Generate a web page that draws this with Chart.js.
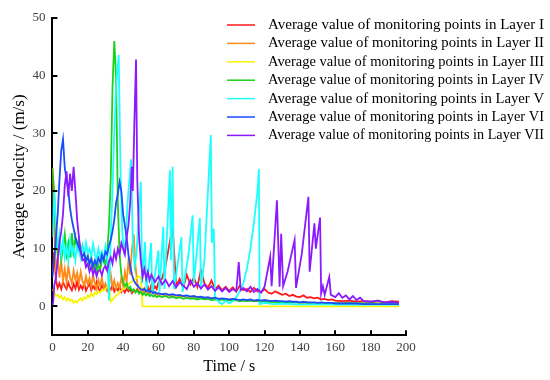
<!DOCTYPE html>
<html><head><meta charset="utf-8">
<script src="https://cdn.jsdelivr.net/npm/chart.js@4.4.1/dist/chart.umd.min.js"></script>
<style>html,body{margin:0;padding:0;background:#fff}canvas{display:block}</style>
</head><body><canvas id="c" width="550" height="380"></canvas>
<script>
// ---- data ----
const time = [
  0,1,2,3,4,5,6,7,8,9,
  10,11,12,13,14,15,16,17,18,19,
  20,21,22,23,24,25,26,27,28,29,
  30,31,32,33,34,35,36,37,38,39,
  40,41,42,43,44,45,46,47,48,49,
  50,51,52,53,54,55,56,57,58,59,
  60,62,64,66,68,70,72,74,76,78,
  80,82,84,86,88,90,92,94,96,98,
  100,102,104,106,108,110,112,114,116,118,
  120,122,124,126,128,130,132,134,136,138,
  140,142,144,146,148,150,152,154,156,158,
  160,164,168,172,176,180,184,188,192,196
];
const layerI = [
  6,9.5,4.5,3.2,4.0,3.0,4.2,3.5,3.0,4.1,
  3.3,2.8,3.9,3.1,4.3,2.9,3.6,3.0,4.0,2.7,
  3.4,3.9,2.8,3.5,3.0,4.2,3.1,2.6,3.6,3.0,
  3.4,2.7,3.3,2.9,3.8,2.6,3.2,2.8,3.5,2.5,
  3.0,2.4,3.1,2.6,2.9,2.3,2.8,2.5,3.0,2.4,
  2.7,2.2,3.1,2.6,3.4,2.5,3.8,2.8,3.5,3.0,
  4.2,4.8,7.0,10.5,13.8,3.5,4.8,3.2,5.5,3.8,
  5.0,3.4,6.3,4.0,3.2,4.5,3.0,3.6,2.8,3.4,
  2.7,3.3,2.6,3.6,2.8,3.0,2.5,3.2,2.6,2.4,
  3.0,2.4,2.2,2.6,2.3,2.0,2.2,1.8,2.0,1.7,
  1.6,1.9,1.5,1.6,1.4,1.5,1.2,1.3,1.1,1.2,
  1.0,0.9,1.0,0.8,0.9,0.8,0.9,0.7,0.9,0.8
];
const layerII = [
  24,14,6.0,8.5,5.0,7.8,4.5,6.5,4.2,7.0,
  5.0,4.0,6.2,4.6,5.8,4.0,6.0,4.4,3.6,5.2,
  3.8,4.9,3.4,5.5,3.9,3.0,4.6,3.5,5.0,3.2,
  4.0,2.9,3.6,5.6,3.4,4.5,3.0,4.0,3.2,5.0,
  3.6,6.0,4.2,8.0,5.5,10.0,12.5,7.0,4.0,3.2,
  2.6,3.0,2.4,2.8,2.2,2.6,2.0,2.4,2.0,2.2,
  1.9,2.1,1.8,2.0,1.7,1.9,1.6,1.8,1.5,1.7,
  1.5,1.6,1.4,1.5,1.3,1.4,1.2,1.3,1.2,1.3,
  1.1,1.2,1.1,1.0,1.1,1.0,1.0,0.9,1.0,0.9,
  0.9,0.8,0.9,0.8,0.8,0.7,0.8,0.7,0.7,0.7,
  0.7,0.6,0.7,0.6,0.6,0.6,0.6,0.5,0.6,0.5,
  0.5,0.5,0.6,0.5,0.5,0.5,0.5,0.5,0.5,0.5
];
const layerIII = [
  3.0,2.5,1.8,2.0,1.5,1.8,1.2,1.6,1.0,1.4,
  0.9,1.2,0.6,0.9,0.7,1.1,1.4,1.0,1.6,1.3,
  1.9,1.6,2.2,1.8,2.4,2.1,2.6,2.4,2.9,2.7,
  3.1,3.3,3.5,0.8,1.2,1.5,1.9,2.1,2.5,2.7,
  3.0,3.2,3.6,3.8,4.1,4.3,4.6,4.8,5.0,5.2,
  5.0,0,0,0,0,0,0,0,0,0,
  0,0,0,0,0,0,0,0,0,0,
  0,0,0,0,0,0,0,0,0,0,
  0,0,0,0,0,0,0,0,0,0,
  0,0,0,0,0,0,0,0,0,0,
  0,0,0,0,0,0,0,0,0,0,
  0,0,0,0,0,0,0,0,0,0
];
const layerIV = [
  24,20,12,9.0,11,8.0,10,12.5,9.0,11,
  8.5,12.7,9.5,12,10,11.5,8.8,10.5,9.2,7.8,
  9.0,7.2,8.4,6.5,7.6,6.0,7.2,6.3,8.0,8.6,
  7.0,9.0,14,22,38,46,40,18,9.0,5.5,
  4.2,3.5,4.0,3.0,3.4,2.6,3.0,2.4,2.8,2.2,
  2.5,2.0,2.3,1.9,2.2,1.8,2.0,1.7,1.9,1.6,
  1.8,1.6,1.8,1.5,1.7,1.4,1.6,1.3,1.5,1.3,
  1.4,1.2,1.4,1.2,1.3,1.1,1.2,1.1,1.2,1.0,
  1.1,1.0,1.1,0.9,1.0,0.9,1.0,0.9,0.9,0.8,
  0.9,0.8,0.8,0.8,0.7,0.8,0.7,0.7,0.7,0.7,
  0.6,0.7,0.6,0.6,0.6,0.6,0.5,0.6,0.5,0.5,
  0.5,0.5,0.6,0.5,0.5,0.5,1.0,0.5,0.6,0.5
];
const timeV = [
  0,1,2,3,4,5,6,7,8,9,
  10,11,12,13,14,15,16,17,18,19,
  20,21,22,23,24,25,26,27,28,29,
  30,31,32,33,34,35,36,
  37.5,38.5,39.5,40.5,41.5,42.5,
  44.5,45.5,46.5,47.5,48.5,
  50,50.8,52.4,53.2,55.8,56.5,59.9,60.6,62.7,63.4,
  66.5,67,68,68.8,73,73.6,77,79.3,80,
  83.4,84,86,89.6,90.2,91.3,92,
  94,96,98,100,102,104,106,108,110,112,114,116,
  116.8,117.2,
  120,125,130,140,150,160,170,180,196
];
const layerV = [
  12,20,14,10,12.5,9,11.5,8.5,10.5,8,
  11.5,9,10.2,8,11,9.5,8.4,10.5,8.8,11,
  9.2,10,8.5,10.8,9,8.2,10,8.6,9.5,8,
  10.5,9,1,12,20,30,38,
  43.6,24,13,9,12,18,
  25.5,11,7,9,14,
  21.6,4,11.2,2.5,11,2,9.7,2.5,13.8,3,
  23.6,8,24.2,3,12,2.5,9,15.8,4,
  15.3,3,8,29.7,11,13.5,1.5,
  0.8,0.4,1.0,0.5,0.9,1.6,2.6,4,6.5,10,14.5,20,
  23.8,0.4,
  0.6,0.4,0.5,0.3,0.4,0.3,0.3,0.3,0.3
];
const layerVI = [
  5.0,8.0,12,16,22,27,29,24,22,20,
  17,15,13.5,12,11,10.2,9.5,8.6,9.2,7.8,
  8.6,7.4,8.2,7.0,8.0,7.2,8.4,7.6,8.9,8.0,
  9.5,9.0,10.5,11.5,13,15,17.9,19.5,21.6,20,
  16,14,12,9.0,7.0,5.5,4.5,4.0,3.6,3.3,
  3.0,2.8,3.0,2.6,2.8,2.5,2.6,2.3,2.5,2.2,
  2.3,2.1,2.2,2.0,2.1,1.9,2.0,1.8,1.9,1.7,
  1.8,1.6,1.7,1.5,1.6,1.4,1.5,1.3,1.4,1.3,
  1.2,1.3,1.2,1.1,1.2,1.1,1.2,1.0,1.1,1.0,
  1.1,1.0,0.9,1.0,0.9,0.9,0.8,0.9,0.8,0.8,
  0.7,0.8,0.7,0.7,0.7,0.6,0.7,0.6,0.6,0.6,
  0.5,0.5,0.5,0.5,0.4,0.4,0.4,0.4,0.4,0.4
];
const timeVII = [
  0,0.5,1,
  2,3,4,5,6,7,8,9,10,11,
  12,13,14,15,16,17,18,19,20,21,
  22,23,24,25,26,27,28,29,30,31,
  32,33,34,35,36,37,38,39,40,41,
  42,43,44,
  44.9,45.5,46.3,47.3,
  48,49,50,51,52,53,54,55,56,
  58,60,62,64,66,68,70,72,74,76,
  78,80,82,84,86,88,90,92,94,96,
  98,100,102,104,
  105.4,106.5,
  108,110,112,114,116,118,120,
  123.2,124,127,128.5,129.4,130.5,133,137,137.8,141,
  144.8,145.5,148.2,149,151.4,152,153,154,156.6,157.5,
  160,162,164,166,168,170,172,174,176,
  180,184,188,192,196
];
const layerVII = [
  0,1,3.5,
  5,8,11,13,16,21,23.4,19,23,20,
  24.2,20,15,12,9.5,8,8.2,6.8,7.4,6,
  6.9,5.5,6.5,5.2,6.2,6.3,5.4,6.6,7,6.2,
  7.8,8.5,7.4,9.5,8.2,10,9,11,10,9,
  12,14,18,
  24.2,20,31,42.8,
  22,12,8,5.1,6.5,4.8,6,4.5,5.5,
  4.2,5.2,3.8,4.6,3.5,4.4,3.3,4.2,3.6,3.0,
  4.5,3.4,4.0,3.1,3.8,2.9,3.5,2.7,3.3,2.6,
  3.2,2.5,3.0,2.6,
  7.7,2.8,
  3.2,2.6,3.4,2.5,3.0,2.4,3.4,
  8.6,3.5,18.4,3.4,12.6,3.5,6,11.5,3.2,9,
  19,6,14.4,10,15.4,2.2,3.5,2,5.1,2,
  1.6,2.3,1.5,1.9,1.2,1.8,1.1,1.5,0.9,
  0.8,1.0,0.7,0.8,0.6
];
const seriesLabels = [
  'Average value of monitoring points in Layer I',
  'Average value of monitoring points in Layer II',
  'Average value of monitoring points in Layer III',
  'Average value of monitoring points in Layer IV',
  'Average value of monitoring points in Layer V',
  'Average value of monitoring points in Layer VI',
  'Average value of monitoring points in Layer VII'
];
const seriesColors = ['#ff1a1a','#ff8c1a','#f5f500','#1ad21a','#1affff','#1a4dff','#8c1aff'];
const xTicks = [0,20,40,60,80,100,120,140,160,180,200];
const yTicks = [0,10,20,30,40,50];

// ---- build ----
const FONT = '"Liberation Serif", "Times New Roman", serif';
Chart.defaults.font.family = FONT;
function pts(ts, vs) { return ts.map((t, i) => ({ x: t, y: vs[i] })); }
const seriesData = [
  pts(time, layerI), pts(time, layerII), pts(time, layerIII), pts(time, layerIV),
  pts(timeV, layerV), pts(time, layerVI), pts(timeVII, layerVII)
];

const inwardTicks = {
  id: 'inwardTicks',
  afterDraw(chart) {
    const { ctx, scales: { x, y }, chartArea } = chart;
    ctx.save();
    ctx.strokeStyle = '#000';
    ctx.lineWidth = 2;
    x.ticks.forEach(t => {
      const px = Math.round(x.getPixelForValue(t.value));
      ctx.beginPath(); ctx.moveTo(px, chartArea.bottom); ctx.lineTo(px, chartArea.bottom - 5); ctx.stroke();
    });
    y.ticks.forEach(t => {
      const py = Math.round(y.getPixelForValue(t.value));
      ctx.beginPath(); ctx.moveTo(chartArea.left, py); ctx.lineTo(chartArea.left + 5, py); ctx.stroke();
    });
    ctx.restore();
  }
};
const sideLegend = {
  id: 'sideLegend',
  afterDraw(chart) {
    const ctx = chart.ctx;
    ctx.save();
    ctx.font = '15px ' + FONT;
    ctx.textBaseline = 'middle';
    ctx.textAlign = 'left';
    chart.data.datasets.forEach((ds, i) => {
      const yy = 25 + i * 18.4;
      ctx.strokeStyle = ds.borderColor;
      ctx.lineWidth = 1.5;
      ctx.beginPath(); ctx.moveTo(227, yy); ctx.lineTo(255, yy); ctx.stroke();
      ctx.fillStyle = '#000';
      ctx.fillText(ds.label, 268, yy, 276);
    });
    ctx.restore();
  }
};

new Chart(document.getElementById('c'), {
  type: 'line',
  data: {
    datasets: seriesData.map((d, i) => ({
      label: seriesLabels[i], data: d,
      borderColor: seriesColors[i], backgroundColor: seriesColors[i],
      borderWidth: 1.8, pointRadius: 0, tension: 0, fill: false, order: 6 - i
    }))
  },
  options: {
    responsive: false, animation: false, events: [],
    layout: { padding: { left: 5, top: 18, right: 144, bottom: 2 } },
    plugins: { legend: { display: false }, tooltip: { enabled: false } },
    scales: {
      x: {
        type: 'linear', min: 0, max: 200,
        afterBuildTicks: s => { s.ticks = xTicks.map(v => ({ value: v })); },
        grid: { display: false, drawTicks: false },
        border: { display: true, color: '#000', width: 2 },
        ticks: { color: '#404040', font: { size: 13 }, padding: 5, maxRotation: 0, autoSkip: false },
        title: { display: true, text: 'Time / s', color: '#000', font: { size: 16 }, padding: { top: -4, bottom: 2 } }
      },
      y: {
        type: 'linear', min: -5, max: 50,
        afterBuildTicks: s => { s.ticks = yTicks.map(v => ({ value: v })); },
        grid: { display: false, drawTicks: false },
        border: { display: true, color: '#000', width: 2 },
        ticks: { color: '#404040', font: { size: 13 }, padding: 7 },
        title: { display: true, text: 'Average velocity / (m/s)', color: '#000', font: { size: 17 }, padding: { top: 4, bottom: -4 } }
      }
    }
  },
  plugins: [inwardTicks, sideLegend]
});
</script></body></html>
